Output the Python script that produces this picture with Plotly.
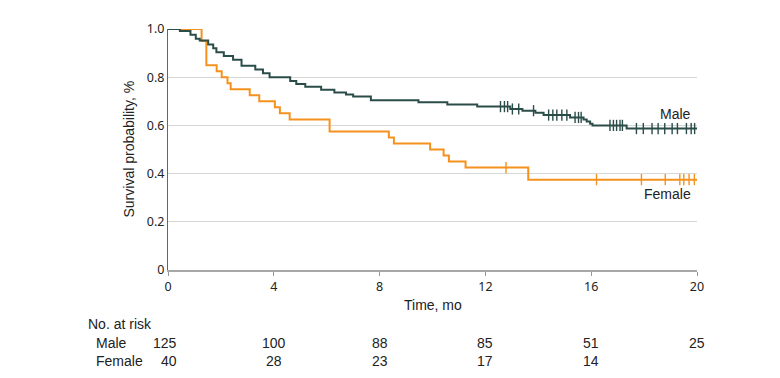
import numpy as np
import plotly.graph_objects as go

# ---- data ----
male_t = [0, 0.45, 0.85, 1.05, 1.2, 1.52, 1.71, 1.83, 2.11, 2.46, 2.78, 3.30, 3.59, 3.84,
          4.62, 4.85, 5.19, 5.79, 6.29, 6.73, 7.0, 7.67, 9.47, 10.56, 11.69, 12.94, 13.4,
          13.89, 14.2, 15.2, 15.71, 15.83, 15.96, 16.05, 17.34, 20.0]
male_s = [1.0, 0.992, 0.976, 0.96, 0.952, 0.936, 0.92, 0.904, 0.888, 0.872, 0.848, 0.832, 0.816, 0.80,
          0.784, 0.772, 0.76, 0.748, 0.736, 0.728, 0.72, 0.704, 0.696, 0.687, 0.678, 0.668, 0.661,
          0.653, 0.643, 0.633, 0.624, 0.616, 0.607, 0.600, 0.587, 0.587]
male_cens = [12.57, 12.72, 12.84, 13.02, 13.26, 13.82, 14.39, 14.55, 14.70, 14.89, 15.08,
             15.39, 15.52, 15.62, 16.71, 16.84, 16.96, 17.09, 17.18, 17.71, 17.97, 18.30,
             18.53, 18.78, 19.06, 19.26, 19.6, 19.78, 19.91]

female_t = [0, 1.27, 1.45, 1.84, 2.03, 2.25, 2.37, 3.09, 3.45, 4.04, 4.23, 4.6, 6.11, 8.35,
            8.54, 9.91, 10.42, 10.62, 11.25, 13.62, 20.0]
female_s = [1.0, 0.95, 0.85, 0.825, 0.80, 0.775, 0.75, 0.725, 0.70, 0.675, 0.65, 0.625, 0.575, 0.55,
            0.525, 0.50, 0.475, 0.45, 0.425, 0.375, 0.375]
female_cens = [12.78, 16.2, 17.9, 18.8, 19.35, 19.5, 19.7, 19.9]

risk_times = [0, 4, 8, 12, 16, 20]
risk_male = ["125", "100", "88", "85", "51", "25"]
risk_female = ["40", "28", "23", "17", "14", ""]

x_ticks = [0, 4, 8, 12, 16, 20]
y_ticks = [0, 0.2, 0.4, 0.6, 0.8, 1.0]
y_ticktext = ["0", "0.2", "0.4", "0.6", "0.8", "1.0"]

MALE_C = "#2b4d49"
FEMALE_C = "#f5921e"
NARROW = "Liberation Sans Narrow, Arial Narrow, sans-serif"


def surv_at(times, surv, t):
    idx = np.searchsorted(np.array(times), t, side="right") - 1
    return [surv[i] for i in idx]


fig = go.Figure()
for t, s, c, cens in [(female_t, female_s, FEMALE_C, female_cens),
                      (male_t, male_s, MALE_C, male_cens)]:
    fig.add_trace(go.Scatter(x=t, y=s, mode="lines", line=dict(color=c, width=2, shape="hv"),
                             showlegend=False, hoverinfo="skip"))
    fig.add_trace(go.Scatter(x=cens, y=surv_at(t, s, cens), mode="markers",
                             marker=dict(symbol="line-ns", size=8,
                                         line=dict(color=c, width=1.4)),
                             showlegend=False, hoverinfo="skip"))

# curve labels
fig.add_annotation(x=20, y=male_s[-1], xref="x", yref="y", text="Male", showarrow=False,
                   xanchor="right", yanchor="bottom", xshift=-4, yshift=5,
                   font=dict(family=NARROW, size=14, color="#222"))
fig.add_annotation(x=20, y=female_s[-1], xref="x", yref="y", text="Female", showarrow=False,
                   xanchor="right", yanchor="top", xshift=-4, yshift=-4,
                   font=dict(family=NARROW, size=14, color="#222"))

# axis titles
fig.add_annotation(x=10, y=0, xref="x", yref="paper", text="Time, mo", showarrow=False,
                   xanchor="center", yanchor="middle", yshift=-35,
                   font=dict(family=NARROW, size=14, color="#222"))
fig.add_annotation(x=0, y=0.5, xref="x", yref="paper", text="Survival probability, %",
                   showarrow=False, textangle=-90, xanchor="center", yanchor="middle",
                   xshift=-40, font=dict(family=NARROW, size=14, color="#222"))

# number at risk table
fig.add_annotation(x=0, y=0, xref="x", yref="paper", text="No. at risk", showarrow=False,
                   xanchor="left", yanchor="middle", xshift=-82, yshift=-54,
                   font=dict(family=NARROW, size=14, color="#222"))
for label, vals, ysh in [("Male", risk_male, -72.7), ("Female", risk_female, -90.7)]:
    fig.add_annotation(x=0, y=0, xref="x", yref="paper", text=label, showarrow=False,
                       xanchor="left", yanchor="middle", xshift=-74, yshift=ysh,
                       font=dict(family=NARROW, size=14, color="#222"))
    for i, (t, v) in enumerate(zip(risk_times, vals)):
        if not v:
            continue
        fig.add_annotation(x=t, y=0, xref="x", yref="paper", text=v, showarrow=False,
                           xanchor="right" if i == 0 else "center", yanchor="middle",
                           xshift=11 if i == 0 else 0, yshift=ysh,
                           font=dict(family=NARROW, size=14, color="#222"))

fig.update_xaxes(range=[0, 20], tickvals=x_ticks, showgrid=False, zeroline=False,
                 showline=True, linecolor="#a8a8a8", linewidth=2,
                 ticks="outside", ticklen=4, tickcolor="#999", tickwidth=1,
                 tickfont=dict(family="Noto Sans, sans-serif", size=12.5, color="#222"))
fig.update_yaxes(range=[0, 1.0], tickvals=y_ticks, ticktext=y_ticktext, showgrid=True,
                 gridcolor="#d6d6d6", gridwidth=1, zeroline=False,
                 showline=True, linecolor="#666", linewidth=1, ticks="",
                 tickfont=dict(family="Noto Sans, sans-serif", size=12.5, color="#222"))

# the page body adds an 8 px offset; margins compensate so the plot area sits
# where it does in the reference
fig.update_layout(width=780, height=378, margin=dict(l=160, r=91, t=12, b=116),
                  plot_bgcolor="white", paper_bgcolor="white")

fig.write_html("out.html")
